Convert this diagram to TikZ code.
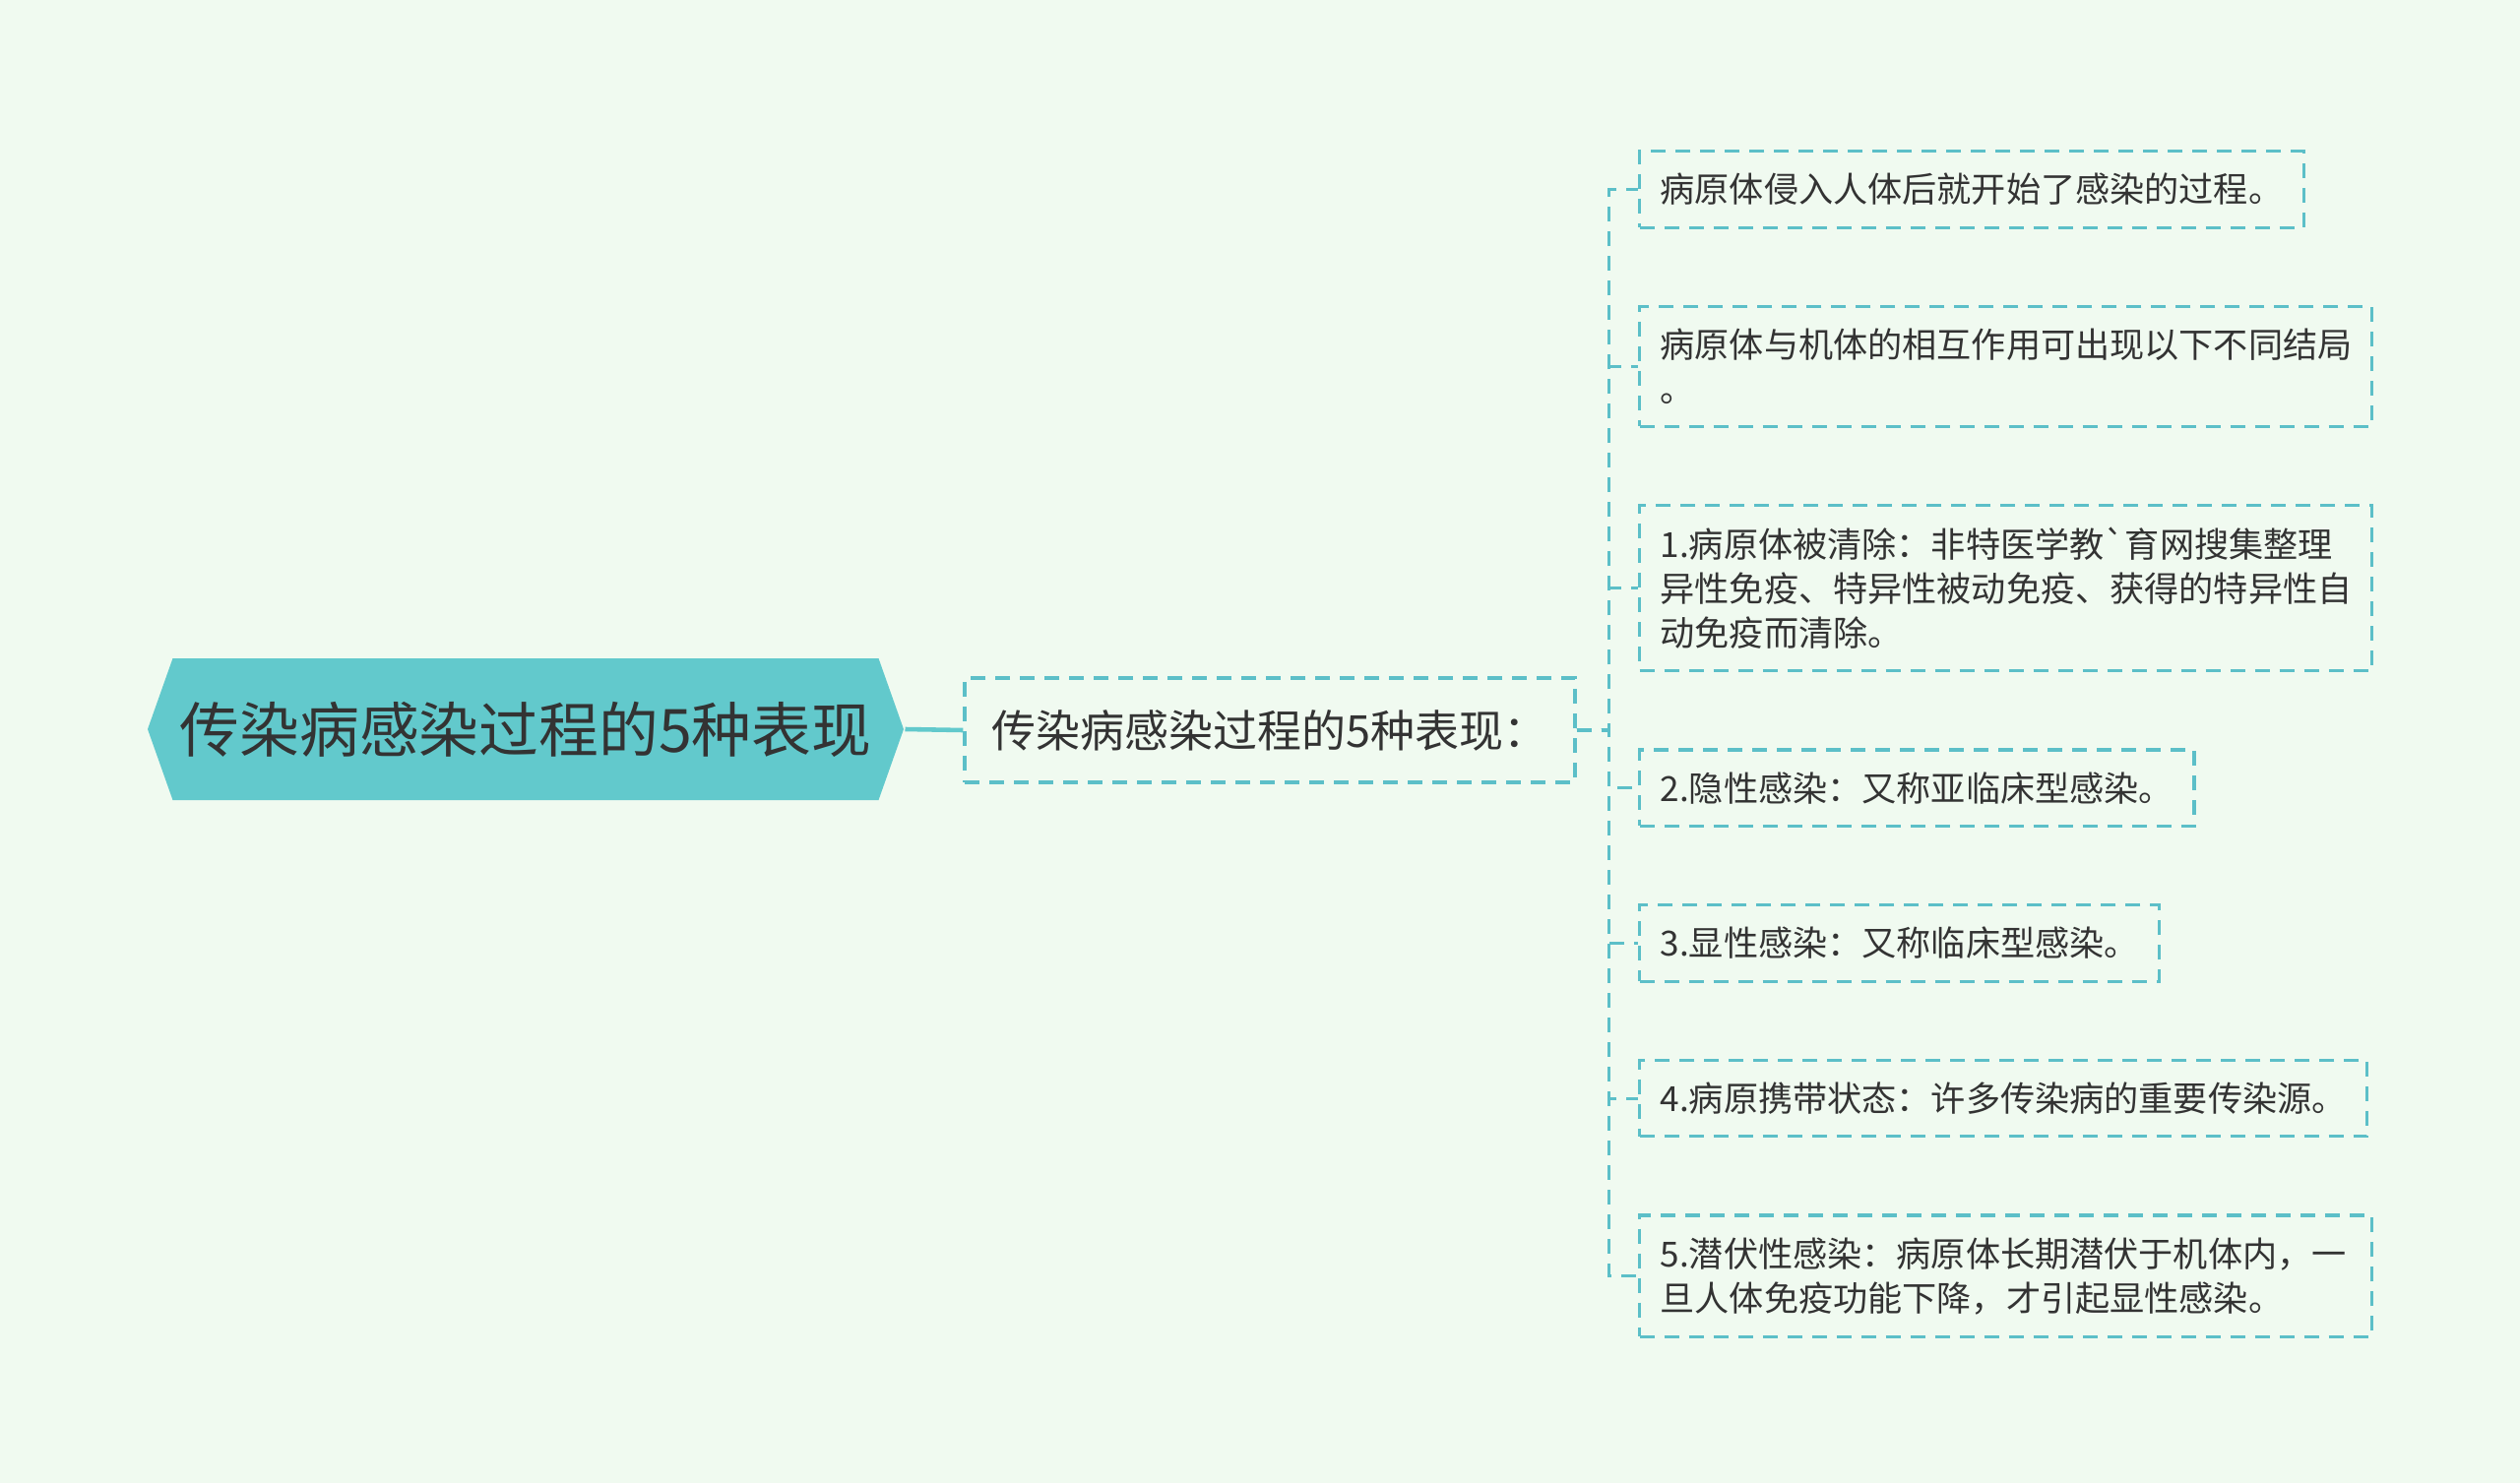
\documentclass[tikz,border=0pt]{standalone}
\usepackage{fontspec}
\newfontfamily\cjk{Noto Sans CJK SC}
\usepackage{tikz}
\usetikzlibrary{positioning,shapes.symbols}

\definecolor{bgcolor}{HTML}{F0FAF0}
\definecolor{rootfill}{HTML}{62C9CC}
\definecolor{linecol}{HTML}{5CBFC8}
\definecolor{txtcol}{HTML}{333333}

\begin{document}
\begin{tikzpicture}[thick,node distance=0.77cm,
  font=\cjk\fontsize{10pt}{12.8pt}\selectfont]
\fill[bgcolor] (0,0) rectangle (25.6,-15.07);
\useasboundingbox (0,0) rectangle (25.6,-15.07);

% Define block styles
\tikzstyle{root} = [signal, signal to=west and east, signal pointer angle=141,
    fill=rootfill, draw=none, text=txtcol, minimum width=7.68cm, minimum height=1.44cm,
    inner xsep=0pt, font=\cjk\fontsize{17.3pt}{20pt}\selectfont]
\tikzstyle{topic} = [rectangle, draw=linecol, line width=0.9pt, dash pattern=on 0.15cm off 0.1cm,
    text=txtcol, minimum width=6.2cm, minimum height=1.06cm, font=\cjk\fontsize{12.8pt}{15pt}\selectfont]
\tikzstyle{leaf} = [rectangle, draw=linecol, line width=0.9pt, dash pattern=on 0.15cm off 0.1cm,
    text=txtcol, align=left, inner xsep=0.21cm, inner ysep=6.4pt]
\tikzstyle{wide} = [text width=7.02cm]
\tikzstyle{line} = [draw=rootfill, line width=1.3pt]
\tikzstyle{dashline} = [draw=linecol, line width=0.9pt, dash pattern=on 0.15cm off 0.1cm]

\node[root]	(root)	at (5.34,-7.41)	{传染病感染过程的5种表现};
\node[topic]	(sub)	at (12.9,-7.42)	{传染病感染过程的5种表现：};

\node[leaf, anchor=north west]	(c1)	at (16.64,-1.52)	{病原体侵入人体后就开始了感染的过程。};
\node[leaf, wide, below=of c1.south west, anchor=north west]	(c2)	{病原体与机体的相互作用可出现以下不同结局\\。};
\node[leaf, wide, below=of c2.south west, anchor=north west]	(c3)	{1.病原体被清除：非特医学教`育网搜集整理\\异性免疫、特异性被动免疫、获得的特异性自\\动免疫而清除。};
\node[leaf, below=of c3.south west, anchor=north west]	(c4)	{2.隐性感染：又称亚临床型感染。};
\node[leaf, below=of c4.south west, anchor=north west]	(c5)	{3.显性感染：又称临床型感染。};
\node[leaf, below=of c5.south west, anchor=north west]	(c6)	{4.病原携带状态：许多传染病的重要传染源。};
\node[leaf, wide, below=of c6.south west, anchor=north west]	(c7)	{5.潜伏性感染：病原体长期潜伏于机体内，一\\旦人体免疫功能下降，才引起显性感染。};

\path[line] (root.east) -- (sub.west);
\foreach \c in {c1,c2,c3,c4,c5,c6,c7}
	\path[dashline] (sub.east) -- ++(0.33,0) |- (\c.west);

\end{tikzpicture}
\end{document}
